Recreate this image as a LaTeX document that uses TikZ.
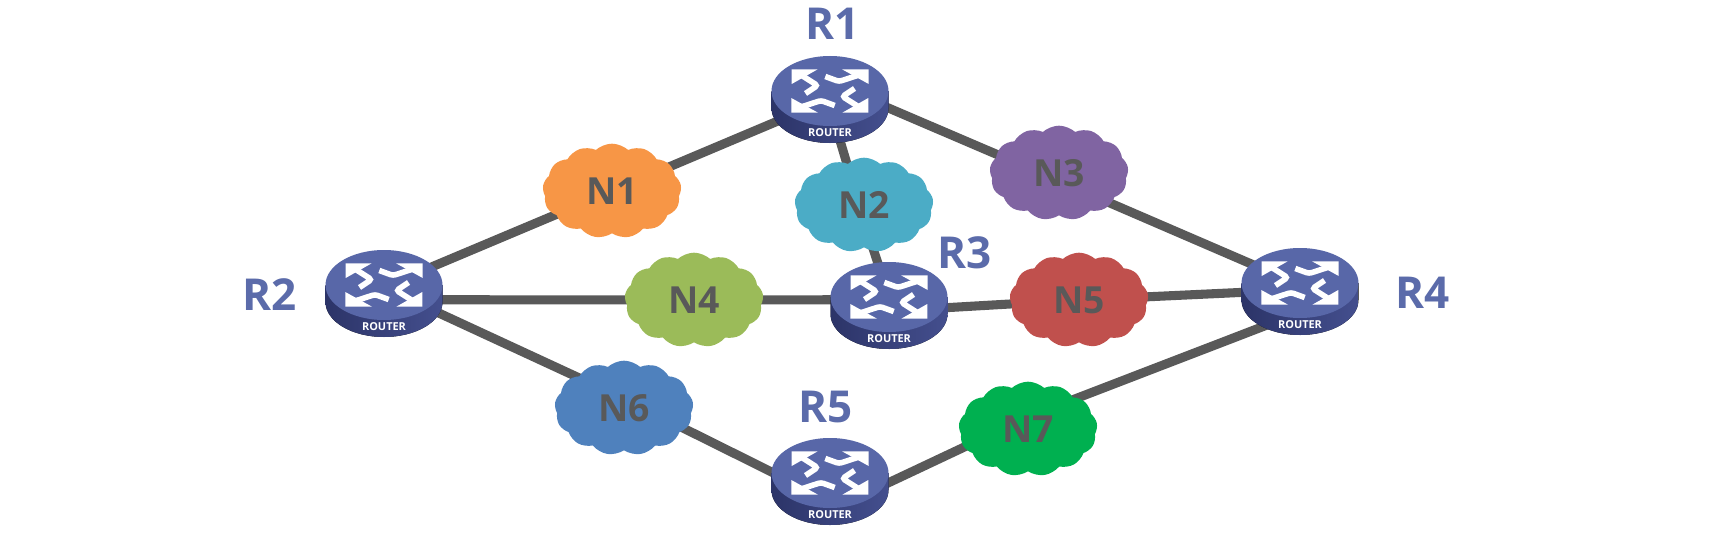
\documentclass[tikz,border=0pt]{standalone}
\usepackage{fontspec}
\setmainfont{Open Sans}
\usetikzlibrary{shapes.symbols,shapes.geometric,backgrounds}
\definecolor{routertop}{HTML}{5867A8}
\definecolor{routerdark}{HTML}{2C3468}
\definecolor{routermid}{HTML}{444F8E}
\definecolor{labelblue}{HTML}{5B6BAA}
\definecolor{linkgray}{HTML}{595959}
\tikzset{
  link/.style={color=linkgray, line width=6.8pt},
  netcloud/.style={cloud, cloud puffs=13, cloud puff arc=85, cloud ignores aspect, minimum width=104pt, minimum height=71pt, inner sep=0pt, text=linkgray, font=\fontsize{28}{28}\selectfont\bfseries},
  routerlabel/.style={text=labelblue, inner sep=0pt, font=\fontsize{33}{33}\selectfont\bfseries},
  pics/router/.style={code={
    \begin{scope}[yscale=-1]
    \fill [left color=routerdark, right color=routermid] (-58.5,0) -- (-58.5,17) arc [start angle=180, end angle=0, x radius=58.5, y radius=35] -- (58.5,0) -- cycle;
    \node [ellipse, fill=routertop, minimum width=87.75pt, minimum height=52.5pt, inner sep=0pt] (-top) at (0,0) {};
    \foreach \a in {0,180} {
      \begin{scope}[rotate=\a]
        % arrow from the centre to the upper left
        \fill [white] (-38.3,-21.7) -- (-12.3,-21.7) -- (-38.3,-7) -- cycle;
        \draw [white, line width=4.2pt, rounded corners=2pt] (-29,-16) -- (-12.5,-5.5) -- (-24.5,2.5);
        % arrow from the centre to the upper right
        \fill [white] (38.7,-21.7) -- (12,-21.7) -- (38.7,-7) -- cycle;
        \draw [white, line width=4.2pt, rounded corners=2pt] (29,-16) -- (9,-9.5) -- (-4.7,-14.5);
      \end{scope}
    }
    \node [text=white, inner sep=0pt, font=\fontsize{8.2}{8.2}\selectfont\bfseries] (-name) at (0,42) {ROUTER};
    \end{scope}
  }}
}
\begin{document}
\begin{tikzpicture}[x=0.75pt,y=0.75pt,yscale=-1]
\useasboundingbox (0,0) rectangle (1730,542);

%Routers
\pic (R1) at (830,91) {router};
\pic (R2) at (384,285) {router};
\pic (R3) at (889,297) {router};
\pic (R4) at (1300,283) {router};
\pic (R5) at (830,473) {router};

%Router names
\node [routerlabel] (labelR1) at (833,24) {R1};
\node [routerlabel] (labelR2) at (270,295) {R2};
\node [routerlabel] (labelR3) at (965,253) {R3};
\node [routerlabel] (labelR4) at (1423,293) {R4};
\node [routerlabel] (labelR5) at (826,407) {R5};

%Networks
\node [netcloud, fill={rgb,255:red,247;green,150;blue,70}] (N1) at (612,191) {N1};
\node [netcloud, fill={rgb,255:red,75;green,172;blue,198}] (N2) at (864,205) {N2};
\node [netcloud, fill={rgb,255:red,128;green,100;blue,162}] (N3) at (1059,173) {N3};
\node [netcloud, fill={rgb,255:red,155;green,187;blue,89}] (N4) at (694,300) {N4};
\node [netcloud, fill={rgb,255:red,192;green,80;blue,77}] (N5) at (1079,300) {N5};
\node [netcloud, fill={rgb,255:red,79;green,129;blue,189}] (N6) at (624,408) {N6};
\node [netcloud, fill={rgb,255:red,0;green,176;blue,80}] (N7) at (1028,429) {N7};

%Links
\begin{pgfonlayer}{background}
\draw [link] ([yshift=1.5pt]R2-top.center) -- (N1.center) -- ([yshift=6pt]R1-top.center);
\draw [link] ([yshift=12pt]R1-top.center) -- ([yshift=12pt]N2.center) -- (R3-top.center);
\draw [link] ([yshift=-6pt]R1-top.center) -- ([yshift=6pt]N3.center) -- ([yshift=1.5pt]R4-top.center);
\draw [link] ([yshift=11pt]R2-top.center) -- (N4.center) -- ([yshift=2pt]R3-top.center);
\draw [link] ([yshift=10.5pt]R3-top.center) -- (N5.center) -- ([yshift=5pt]R4-top.center);
\draw [link] ([yshift=2pt]R2-top.center) -- ([yshift=-7pt]N6.center) -- ([yshift=21pt]R5-top.center);
\draw [link] ([yshift=28pt]R5-top.center) -- ([yshift=-9pt]N7.center) -- ([yshift=22pt]R4-top.center);
\end{pgfonlayer}

\end{tikzpicture}
\end{document}
